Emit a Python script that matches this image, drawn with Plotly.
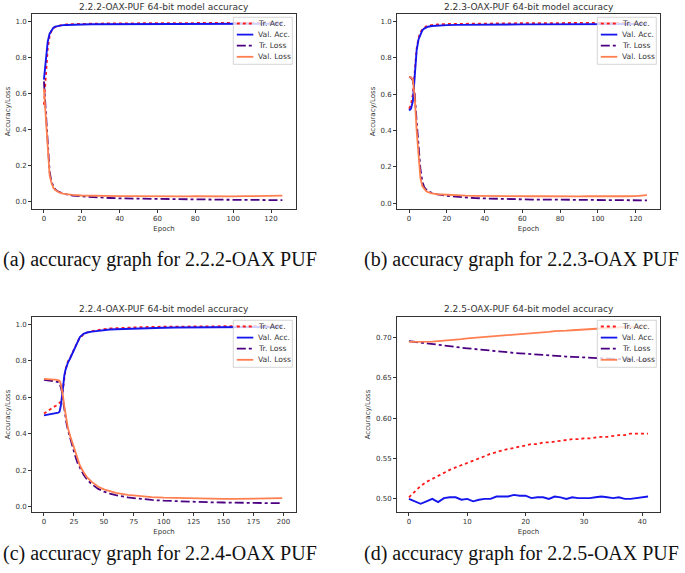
import plotly.graph_objects as go

# ---- panel (a) 2.2.2-OAX-PUF ----
EP_A = [0, 1, 2, 3, 4, 5, 6, 7, 8, 10, 12, 15, 20, 25, 30, 35, 40, 45, 50, 55,
        60, 65, 70, 75, 80, 85, 90, 95, 100, 105, 110, 115, 120, 124, 126]
A_TR_ACC = [0.54, 0.72, 0.85, 0.92, 0.95, 0.965, 0.972, 0.977, 0.980, 0.984, 0.986, 0.988,
            0.990, 0.991, 0.991, 0.992, 0.992, 0.992, 0.993, 0.993, 0.993, 0.993, 0.994,
            0.994, 0.994, 0.994, 0.994, 0.995, 0.995, 0.995, 0.995, 0.995, 0.995, 0.995, 0.996]
A_VAL_ACC = [0.68, 0.80, 0.89, 0.935, 0.955, 0.968, 0.974, 0.977, 0.979, 0.982, 0.983, 0.985,
             0.986, 0.987, 0.987, 0.988, 0.988, 0.988, 0.989, 0.989, 0.989, 0.989, 0.989,
             0.989, 0.990, 0.990, 0.990, 0.990, 0.990, 0.990, 0.990, 0.990, 0.990, 0.990, 0.990]
A_TR_LOSS = [0.67, 0.50, 0.32, 0.17, 0.11, 0.085, 0.07, 0.061, 0.055, 0.047, 0.042, 0.036,
             0.031, 0.027, 0.024, 0.022, 0.020, 0.019, 0.018, 0.017, 0.016, 0.015, 0.015,
             0.014, 0.014, 0.013, 0.013, 0.012, 0.012, 0.012, 0.011, 0.011, 0.011, 0.010, 0.010]
A_VAL_LOSS = [0.63, 0.45, 0.28, 0.15, 0.105, 0.078, 0.066, 0.058, 0.053, 0.047, 0.043, 0.039,
              0.036, 0.034, 0.034, 0.033, 0.032, 0.033, 0.032, 0.031, 0.032, 0.031, 0.032,
              0.031, 0.032, 0.031, 0.032, 0.033, 0.031, 0.032, 0.033, 0.032, 0.034, 0.033, 0.035]

# ---- panel (b) 2.2.3-OAX-PUF ----
EP_B = [0, 1, 2, 3, 4, 5, 6, 7, 8, 9, 10, 12, 15, 20, 25, 30, 35, 40, 45, 50, 55,
        60, 65, 70, 75, 80, 85, 90, 95, 100, 105, 110, 115, 120, 124, 126]
B_TR_ACC = [0.52, 0.54, 0.60, 0.74, 0.85, 0.91, 0.94, 0.955, 0.965, 0.972, 0.976, 0.980,
            0.983, 0.985, 0.986, 0.987, 0.988, 0.988, 0.989, 0.989, 0.989, 0.990, 0.990,
            0.990, 0.990, 0.990, 0.991, 0.991, 0.991, 0.991, 0.991, 0.991, 0.992, 0.992,
            0.992, 0.992]
B_VAL_ACC = [0.51, 0.52, 0.56, 0.70, 0.84, 0.90, 0.93, 0.95, 0.96, 0.966, 0.970, 0.974,
             0.977, 0.979, 0.980, 0.981, 0.981, 0.982, 0.982, 0.982, 0.983, 0.983, 0.983,
             0.983, 0.984, 0.984, 0.984, 0.984, 0.984, 0.984, 0.985, 0.985, 0.985, 0.985,
             0.985, 0.985]
B_TR_LOSS = [0.695, 0.69, 0.675, 0.60, 0.45, 0.30, 0.19, 0.12, 0.09, 0.076, 0.068, 0.058,
             0.049, 0.041, 0.036, 0.032, 0.029, 0.027, 0.025, 0.024, 0.023, 0.022, 0.021,
             0.021, 0.020, 0.020, 0.019, 0.019, 0.019, 0.018, 0.018, 0.018, 0.017, 0.017,
             0.017, 0.016]
B_VAL_LOSS = [0.695, 0.692, 0.68, 0.58, 0.40, 0.24, 0.14, 0.095, 0.078, 0.068, 0.062, 0.055,
              0.050, 0.046, 0.044, 0.042, 0.041, 0.040, 0.039, 0.040, 0.039, 0.038, 0.039,
              0.040, 0.039, 0.041, 0.039, 0.038, 0.040, 0.039, 0.038, 0.040, 0.039, 0.040,
              0.042, 0.045]

# ---- panel (c) 2.2.4-OAX-PUF ----
EP_C = [0, 2, 4, 6, 8, 10, 12, 13, 14, 15, 16, 17, 18, 19, 20, 22, 24, 26, 28, 30,
        33, 36, 40, 45, 50, 55, 60, 70, 80, 90, 100, 110, 120, 130, 140, 150, 160,
        170, 180, 190, 199]
C_TR_ACC = [0.510, 0.520, 0.530, 0.538, 0.546, 0.553, 0.562, 0.568, 0.575, 0.60, 0.66,
            0.71, 0.75, 0.775, 0.795, 0.82, 0.845, 0.875, 0.905, 0.925, 0.945, 0.955,
            0.963, 0.970, 0.974, 0.977, 0.979, 0.982, 0.984, 0.986, 0.987, 0.988, 0.989,
            0.989, 0.990, 0.990, 0.990, 0.991, 0.991, 0.991, 0.991]
C_VAL_ACC = [0.500, 0.502, 0.503, 0.505, 0.507, 0.510, 0.515, 0.520, 0.55, 0.60, 0.67,
             0.72, 0.75, 0.775, 0.79, 0.815, 0.845, 0.88, 0.91, 0.93, 0.948, 0.955,
             0.960, 0.965, 0.968, 0.971, 0.973, 0.976, 0.978, 0.980, 0.981, 0.982, 0.983,
             0.983, 0.984, 0.984, 0.985, 0.985, 0.985, 0.985, 0.985]
C_TR_LOSS = [0.695, 0.692, 0.690, 0.690, 0.688, 0.687, 0.683, 0.678, 0.66, 0.63, 0.58,
             0.53, 0.49, 0.45, 0.42, 0.37, 0.33, 0.28, 0.24, 0.21, 0.175, 0.148, 0.122,
             0.098, 0.082, 0.071, 0.062, 0.050, 0.042, 0.036, 0.032, 0.029, 0.027, 0.025,
             0.023, 0.022, 0.021, 0.020, 0.019, 0.019, 0.018]
C_VAL_LOSS = [0.700, 0.698, 0.697, 0.697, 0.696, 0.696, 0.694, 0.690, 0.675, 0.645, 0.60,
              0.55, 0.50, 0.46, 0.43, 0.385, 0.345, 0.30, 0.26, 0.225, 0.19, 0.16, 0.135,
              0.11, 0.094, 0.083, 0.075, 0.064, 0.057, 0.052, 0.049, 0.047, 0.045, 0.044,
              0.043, 0.042, 0.042, 0.043, 0.042, 0.043, 0.046]

# ---- panel (d) 2.2.5-OAX-PUF ----
EP_D = list(range(42))
D_TR_ACC = [0.502, 0.509, 0.516, 0.521, 0.525, 0.529, 0.533, 0.536, 0.539, 0.542, 0.545,
            0.548, 0.551, 0.553, 0.556, 0.558, 0.560, 0.562, 0.563, 0.565, 0.566, 0.568,
            0.568, 0.570, 0.570, 0.571, 0.572, 0.573, 0.574, 0.574, 0.575, 0.575, 0.576,
            0.577, 0.577, 0.578, 0.579, 0.579, 0.581, 0.581, 0.581, 0.581]
D_VAL_ACC = [0.500, 0.497, 0.494, 0.497, 0.500, 0.496, 0.501, 0.502, 0.502, 0.499, 0.500,
             0.497, 0.499, 0.500, 0.500, 0.503, 0.503, 0.503, 0.505, 0.504, 0.504, 0.501,
             0.502, 0.502, 0.500, 0.503, 0.502, 0.500, 0.502, 0.501, 0.501, 0.501, 0.502,
             0.503, 0.502, 0.501, 0.502, 0.500, 0.500, 0.501, 0.502, 0.503]
D_TR_LOSS = [0.6955, 0.6945, 0.6935, 0.6926, 0.6917, 0.6908, 0.6899, 0.6890, 0.6882, 0.6874,
             0.6866, 0.6858, 0.6851, 0.6843, 0.6836, 0.6829, 0.6822, 0.6816, 0.6810, 0.6804,
             0.6798, 0.6792, 0.6787, 0.6782, 0.6777, 0.6772, 0.6768, 0.6764, 0.6760, 0.6756,
             0.6752, 0.6748, 0.6745, 0.6741, 0.6738, 0.6735, 0.6731, 0.6728, 0.6725, 0.6722,
             0.6719, 0.6716]
D_VAL_LOSS = [0.6945, 0.6945, 0.6945, 0.695, 0.695, 0.6955, 0.696, 0.697, 0.6975, 0.698,
              0.699, 0.6995, 0.700, 0.7005, 0.701, 0.7015, 0.7025, 0.703, 0.7035, 0.704,
              0.7045, 0.705, 0.7055, 0.706, 0.707, 0.708, 0.708, 0.7085, 0.709, 0.7095,
              0.710, 0.7105, 0.711, 0.7115, 0.712, 0.712, 0.7125, 0.713, 0.713, 0.7135,
              0.714, 0.714]

TITLES = ["2.2.2-OAX-PUF 64-bit model accuracy", "2.2.3-OAX-PUF 64-bit model accuracy",
          "2.2.4-OAX-PUF 64-bit model accuracy", "2.2.5-OAX-PUF 64-bit model accuracy"]
CAPTIONS = ["(a) accuracy graph for 2.2.2-OAX PUF", "(b) accuracy graph for 2.2.3-OAX PUF",
            "(c) accuracy graph for 2.2.4-OAX PUF", "(d) accuracy graph for 2.2.5-OAX PUF"]
NAMES = ["Tr. Acc.", "Val. Acc.", "Tr. Loss", "Val. Loss"]

W, H = 685, 573
SANS = "DejaVu Sans"
INK = "#333333"


def px(x):
    return x / W


def py(y):
    return 1 - y / H


# pixel boxes of the four plot frames: left, right, top, bottom
BOXES = [(32, 296, 14, 209), (397, 660, 14, 209), (32, 296, 317, 512), (397, 660, 317, 512)]
XRANGES = [[-6.3, 133.2], [-6.4, 132.9], [-10, 210.5], [-2.05, 43.05]]
YRANGES = [[-0.039, 1.044], [-0.031, 1.04], [-0.030, 1.04], [0.4838, 0.7254]]
XDTICK = [20, 20, 25, 10]
YDTICK = [0.2, 0.2, 0.2, 0.05]
YFMT = [".1f", ".1f", ".1f", ".2f"]

STYLES = [dict(color="#ff1a1a", width=1.8, dash="dot"),
          dict(color="#1515ee", width=1.9),
          dict(color="#4b0082", width=1.8, dash="dashdot"),
          dict(color="#ff7f50", width=1.8)]

panels = [
    (EP_A, [A_TR_ACC, A_VAL_ACC, A_TR_LOSS, A_VAL_LOSS]),
    (EP_B, [B_TR_ACC, B_VAL_ACC, B_TR_LOSS, B_VAL_LOSS]),
    (EP_C, [C_TR_ACC, C_VAL_ACC, C_TR_LOSS, C_VAL_LOSS]),
    (EP_D, [D_TR_ACC, D_VAL_ACC, D_TR_LOSS, D_VAL_LOSS]),
]

fig = go.Figure()
layout = dict(width=W, height=H, margin=dict(l=0, r=0, t=0, b=0), showlegend=False,
              paper_bgcolor="white", plot_bgcolor="white",
              font=dict(family=SANS, size=7, color=INK))
annotations = []
shapes = []

for i, (ep, series) in enumerate(panels):
    k = "" if i == 0 else str(i + 1)
    for name, ys, st in zip(NAMES, series, STYLES):
        fig.add_trace(go.Scatter(x=ep, y=ys, mode="lines", name=name, line=st,
                                 xaxis="x" + k, yaxis="y" + k))
    l, r, t, b = BOXES[i]
    axis_common = dict(showline=True, mirror=True, linecolor=INK, linewidth=0.9,
                       ticks="outside", ticklen=3, tickwidth=0.8, tickcolor=INK,
                       showgrid=False, zeroline=False,
                       tickfont=dict(family=SANS, size=7, color=INK))
    layout["xaxis" + k] = dict(axis_common, domain=[px(l), px(r)], anchor="y" + k,
                               range=XRANGES[i], tick0=0, dtick=XDTICK[i],
                               title=dict(text="Epoch", standoff=3,
                                          font=dict(family=SANS, size=7, color=INK)))
    layout["yaxis" + k] = dict(axis_common, domain=[py(b), py(t)], anchor="x" + k,
                               range=YRANGES[i], tick0=0, dtick=YDTICK[i],
                               tickformat=YFMT[i],
                               title=dict(text="Accuracy/Loss", standoff=4,
                                          font=dict(family=SANS, size=7, color=INK)))
    annotations.append(dict(text=TITLES[i], x=px((l + r) / 2), y=py(t - 7.5),
                            xref="paper", yref="paper", showarrow=False,
                            xanchor="center", yanchor="middle",
                            font=dict(family=SANS, size=9, color=INK)))

    # legend box in the upper right corner of the frame
    bl, bt = r - 62.7, t + 3.3
    shapes.append(dict(type="rect", xref="paper", yref="paper",
                       x0=px(bl), x1=px(bl + 59), y0=py(bt), y1=py(bt + 47),
                       fillcolor="rgba(255,255,255,0.8)",
                       line=dict(color="#cccccc", width=0.8), layer="above"))
    for j, (name, st) in enumerate(zip(NAMES, STYLES)):
        yy = bt + 6.2 + 11.1 * j
        shapes.append(dict(type="line", xref="paper", yref="paper",
                           x0=px(bl + 3.5), x1=px(bl + 20), y0=py(yy), y1=py(yy),
                           line=dict(color=st["color"], width=1.8,
                                     dash=st.get("dash", "solid")), layer="above"))
        annotations.append(dict(text=name, x=px(bl + 23), y=py(yy), xref="paper",
                                yref="paper", showarrow=False, xanchor="left",
                                yanchor="middle",
                                font=dict(family=SANS, size=7.6, color=INK)))

CAP_POS = [(1, 259), (362, 259), (1, 553), (362, 553)]
for cap, (cx, cy) in zip(CAPTIONS, CAP_POS):
    annotations.append(dict(text=cap, x=px(cx), y=py(cy), xref="paper", yref="paper",
                            showarrow=False, xanchor="left", yanchor="middle",
                            font=dict(family="Liberation Serif", size=20, color="#111111")))

layout["annotations"] = annotations
layout["shapes"] = shapes
fig.update_layout(**layout)
# drop the default 8px page margin so the figure sits at the window's corner
fig.write_html("out.html", config={"displayModeBar": False},
               post_script="document.body.style.margin = '0';")
